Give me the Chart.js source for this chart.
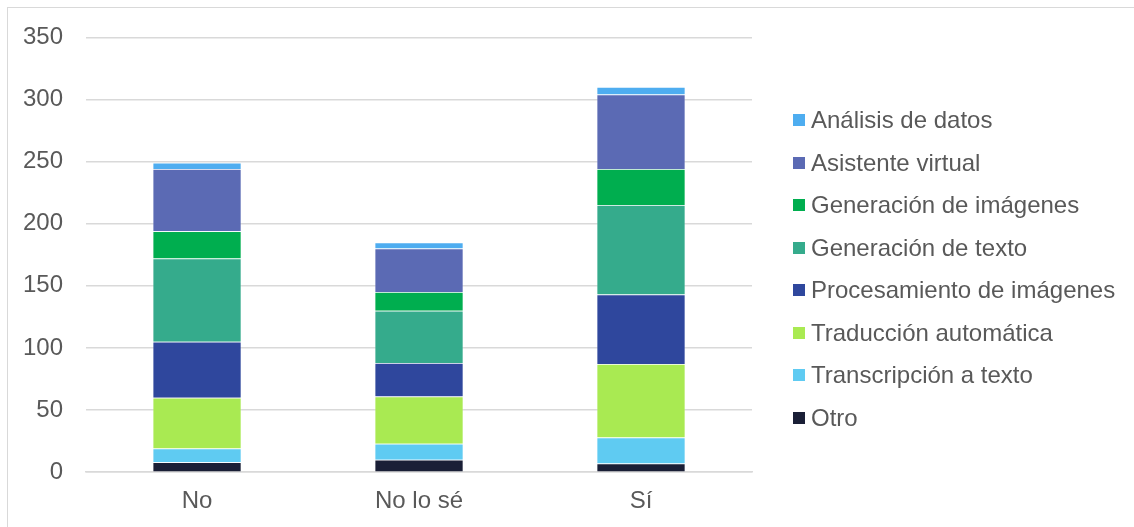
<!DOCTYPE html>
<html lang="es">
<head>
<meta charset="utf-8">
<script src="https://cdn.jsdelivr.net/npm/chart.js@4/dist/chart.umd.min.js"></script>
<style>
  html, body { margin: 0; padding: 0; background: #fff; }
  body { width: 1134px; height: 527px; position: relative; overflow: hidden; font-family: 'Liberation Sans', Arial, sans-serif; }
  .frame { position: absolute; left: 7px; top: 7px; width: 1200px; height: 600px; border: 1.5px solid #d9d9d9; }
  .wrap { position: absolute; left: 0; top: 0; width: 1134px; height: 527px; }
  #legend { position: absolute; left: 793px; top: 99px; margin: 0; padding: 0; list-style: none; }
  #legend li { display: flex; align-items: center; height: 42.5px; font-size: 24px; color: #595959; white-space: nowrap; }
  #legend span.box { display: inline-block; width: 12px; height: 12px; margin-right: 6px; }
</style>
</head>
<body>
<div class="frame"></div>
<div class="wrap"><canvas id="chart" width="1134" height="527"></canvas></div>
<ul id="legend"></ul>
<script>
// respuestas por categoría
const categories = ['No', 'No lo sé', 'Sí'];

// series, de abajo hacia arriba en la pila
const seriesNames = [
  'Otro',
  'Transcripción a texto',
  'Traducción automática',
  'Procesamiento de imágenes',
  'Generación de texto',
  'Generación de imágenes',
  'Asistente virtual',
  'Análisis de datos'
];
const otro = [8, 10, 7];
const transcripcion = [11, 13, 21];
const traduccion = [41, 38, 59];
const procesamiento = [45, 27, 56];
const generacionTexto = [67, 42, 72];
const generacionImagenes = [22, 15, 29];
const asistente = [50, 35, 60];
const analisis = [5, 5, 6];

const yTicks = [0, 50, 100, 150, 200, 250, 300, 350];

const seriesValues = [otro, transcripcion, traduccion, procesamiento,
  generacionTexto, generacionImagenes, asistente, analisis];
const seriesColors = ['#1a1f36', '#5fcbf2', '#a9ea52', '#2f479d',
  '#35ab8c', '#00ae4f', '#5b6ab4', '#4eadf0'];

const FONT = "'Liberation Sans', Arial, sans-serif";
const TEXT = '#595959';

const datasets = seriesNames.map((name, i) => ({
  label: name,
  data: seriesValues[i],
  backgroundColor: seriesColors[i],
  borderColor: 'rgba(255,255,255,0.45)',
  borderWidth: 0.75,
  barPercentage: 0.4,
  categoryPercentage: 1
}));

new Chart(document.getElementById('chart'), {
  type: 'bar',
  data: { labels: categories, datasets: datasets },
  options: {
    responsive: false,
    animation: false,
    events: [],
    layout: { padding: { left: 0, right: 382, top: 28, bottom: -4 } },
    plugins: { legend: { display: false }, tooltip: { enabled: false } },
    scales: {
      x: {
        stacked: true,
        grid: { display: false, drawTicks: false },
        border: { display: true, color: '#d9d9d9', width: 1.5 },
        ticks: { color: TEXT, font: { family: FONT, size: 24 }, padding: 15 }
      },
      y: {
        stacked: true,
        min: 0,
        max: 350,
        afterBuildTicks: (axis) => { axis.ticks = yTicks.map(v => ({ value: v })); },
        grid: { color: '#d9d9d9', lineWidth: 1.5, drawTicks: false },
        border: { display: false },
        ticks: { color: TEXT, font: { family: FONT, size: 24 }, padding: 23 }
      }
    }
  }
});

// leyenda en orden inverso (como la pila)
const legend = document.getElementById('legend');
for (let i = seriesNames.length - 1; i >= 0; i--) {
  const li = document.createElement('li');
  const box = document.createElement('span');
  box.className = 'box';
  box.style.background = seriesColors[i];
  li.appendChild(box);
  li.appendChild(document.createTextNode(seriesNames[i]));
  legend.appendChild(li);
}
</script>
</body>
</html>
